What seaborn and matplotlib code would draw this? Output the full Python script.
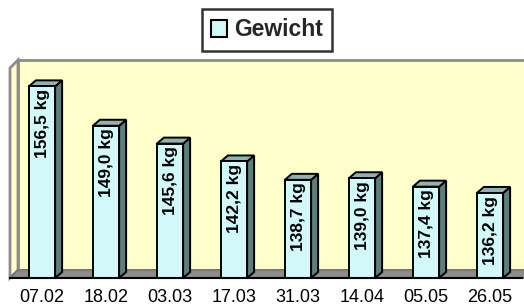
import matplotlib
matplotlib.use("Agg")
import matplotlib.pyplot as plt
import seaborn as sns
import pandas as pd
import numpy as np
from matplotlib.patches import Polygon, Rectangle

dates = ["07.02", "18.02", "03.03", "17.03", "31.03", "14.04", "05.05", "26.05"]
weights = [156.5, 149.0, 145.6, 142.2, 138.7, 139.0, 137.4, 136.2]
labels = ["156,5 kg", "149,0 kg", "145,6 kg", "142,2 kg", "138,7 kg", "139,0 kg", "137,4 kg", "136,2 kg"]
series = "Gewicht"
y_min, y_max = 120, 160

df = pd.DataFrame({"Datum": dates, "kg": weights, "Serie": [series] * len(dates)})

sns.set_style("white")
plt.rcParams["font.family"] = ["Liberation Sans", "DejaVu Sans"]

W, H = 524, 305
fig = plt.figure(figsize=(W / 100, H / 100), dpi=100)
ax = fig.add_axes([10 / W, 27 / H, 512 / W, 210 / H])

FRONT = "#CCFFFF"
SIDE = "#5E7E7E"
TOP = "#93B1B1"
WALL = "#FFFFCC"
WALLEDGE = "#8C8C8C"

sns.barplot(data=df, x="Datum", y="kg", hue="Serie", palette=[FRONT], width=0.41,
            edgecolor="black", linewidth=1.4, ax=ax, zorder=5)

ax.set_xlim(-0.5, len(dates) - 0.5)
ax.set_ylim(y_min, y_max)

# pixel -> data conversions
px_x = len(dates) / 512.0
px_y = (y_max - y_min) / 210.0

# walls / floor
wdx, wdy = 8 * px_x, 8 * px_y
x0, x1 = -0.5, len(dates) - 0.5
back = Rectangle((x0 + wdx, y_min + wdy), (x1 - x0) + 1, (y_max - y_min), facecolor=WALL,
                 edgecolor=WALLEDGE, linewidth=2, zorder=0, clip_on=False)
ax.add_patch(back)
left = Polygon([(x0, y_min), (x0 + wdx, y_min + wdy), (x0 + wdx, y_max + wdy), (x0, y_max)],
               closed=True, facecolor=WALL, edgecolor=WALLEDGE, linewidth=2, zorder=1, clip_on=False)
ax.add_patch(left)
floor = Polygon([(x0, y_min), (x1 + 1, y_min), (x1 + 1 + wdx, y_min + wdy), (x0 + wdx, y_min + wdy)],
                closed=True, facecolor="#8C8C8C", edgecolor="#6E6E6E", linewidth=1, zorder=1, clip_on=False)
ax.add_patch(floor)

# 3D sides of bars
bdx, bdy = 7 * px_x, 6 * px_y
for p, lab in zip(ax.patches[:len(dates)], labels):
    bx, by = p.get_x(), y_min
    bw = p.get_width()
    top = p.get_y() + p.get_height()
    side = Polygon([(bx + bw, by), (bx + bw, top), (bx + bw + bdx, top + bdy), (bx + bw + bdx, by + bdy)],
                   closed=True, facecolor=SIDE, edgecolor="black", linewidth=1.4, zorder=4)
    ax.add_patch(side)
    tp = Polygon([(bx, top), (bx + bdx, top + bdy), (bx + bw + bdx, top + bdy), (bx + bw, top)],
                 closed=True, facecolor=TOP, edgecolor="black", linewidth=1.4, zorder=4)
    ax.add_patch(tp)
    ax.text(bx + bw / 2, top - 0.5, lab, rotation=90, ha="center", va="top",
            fontsize=12.5, fontweight="bold", color="black", zorder=6)

for s in ["top", "right", "left"]:
    ax.spines[s].set_visible(False)
ax.spines["bottom"].set_color("black")
ax.spines["bottom"].set_linewidth(1.5)
ax.spines["bottom"].set_zorder(7)

ax.set_xticks(range(len(dates)))
ax.set_xticklabels(dates)
ax.set_xticks(np.arange(-0.5, len(dates), 1.0), minor=True)
ax.tick_params(axis="x", which="major", length=0, pad=8, labelsize=13, labelcolor="black")
ax.tick_params(axis="x", which="minor", length=4, width=1.5, color="black", direction="out")
ax.set_yticks([])
ax.set_xlabel("")
ax.set_ylabel("")
ax.grid(False)
ax.set_facecolor("none")

sns.move_legend(ax, "center", bbox_to_anchor=(267 / W, 275 / H), bbox_transform=fig.transFigure,
                title=None, frameon=True, fancybox=False, fontsize=16.5, handlelength=0.7,
                handleheight=0.7, handletextpad=0.3, borderpad=0.4)
leg = ax.get_legend()
leg.get_frame().set_edgecolor("black")
leg.get_frame().set_linewidth(1.8)
for t in leg.get_texts():
    t.set_fontweight("bold")
for h in leg.legend_handles:
    h.set_edgecolor("black")
    h.set_linewidth(1.5)

fig.savefig("out.png", dpi=100, facecolor="white")
